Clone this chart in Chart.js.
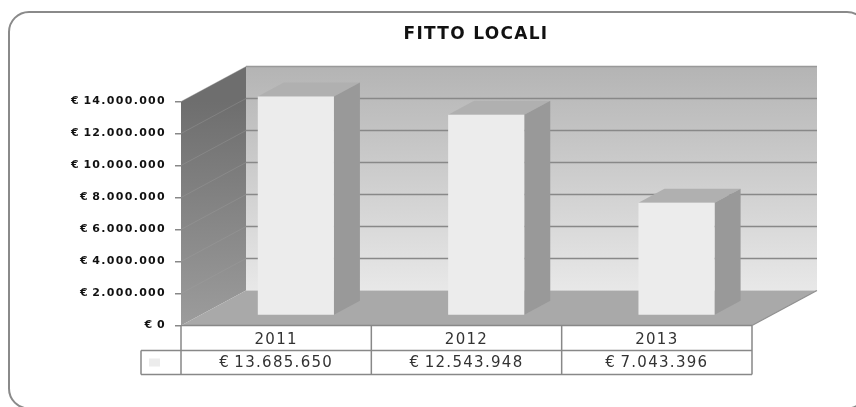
<!DOCTYPE html>
<html><head><meta charset="utf-8">
<style>html,body{margin:0;padding:0;background:#fff}canvas{display:block}</style>
<script src="https://cdn.jsdelivr.net/npm/chart.js@4"></script></head>
<body><canvas id="c" width="856" height="407"></canvas>
<script>
const titleText = "FITTO LOCALI";
const categories = ["2011", "2012", "2013"];
const values = [13685650, 12543948, 7043396];
const yTicksMax = 14000000;
const yTickStep = 2000000;

const WALL = {dx: 65, dy: -35};
const BAR = {dx: 19.7, dy: -10, sideX: 26, sideY: -14};
const LINE = "#888888";
const eur = v => "€\u2009" + String(v).replace(/\B(?=(\d{3})+$)/g, ".");

function poly(ctx, pts, fill) {
  ctx.beginPath();
  pts.forEach((p, i) => i ? ctx.lineTo(p[0], p[1]) : ctx.moveTo(p[0], p[1]));
  ctx.closePath();
  ctx.fillStyle = fill;
  ctx.fill();
}
const scene = {
  id: "scene",
  beforeDraw(chart) {
    const ctx = chart.ctx;
    const t = chart.titleBlock;
    t.left = 100; t.right = 852;
    ctx.fillStyle = "#fff";
    ctx.fillRect(0, 0, 856, 407);
    ctx.strokeStyle = "#8a8a8a";
    ctx.lineWidth = 2;
    ctx.beginPath();
    ctx.roundRect(9, 12, 858, 396.5, 20);
    ctx.stroke();
    ctx.letterSpacing = "1.3px";
  },
  beforeDatasetsDraw(chart) {
    const ctx = chart.ctx, {left: L, right: R} = chart.chartArea, y = chart.scales.y;
    const y0 = y.getPixelForValue(0), yT = y.getPixelForValue(yTicksMax);
    const {dx, dy} = WALL;
    ctx.save();
    let g = ctx.createLinearGradient(0, yT + dy, 0, y0 + dy);
    g.addColorStop(0, "#b4b4b4"); g.addColorStop(1, "#e8e8e8");
    poly(ctx, [[L + dx, yT + dy], [R + dx, yT + dy], [R + dx, y0 + dy], [L + dx, y0 + dy]], g);
    g = ctx.createLinearGradient(0, yT, 0, y0);
    g.addColorStop(0, "#6e6e6e"); g.addColorStop(1, "#9c9c9c");
    poly(ctx, [[L, y0], [L + dx, y0 + dy], [L + dx, yT + dy], [L, yT]], g);
    poly(ctx, [[L, y0], [L + dx, y0 + dy], [R + dx, y0 + dy], [R, y0]], "#a9a9a9");
    y.ticks.forEach(t => {
      const p = y.getPixelForValue(t.value);
      if (t.value > 0) {
        ctx.strokeStyle = "rgba(160,160,160,0.35)"; ctx.lineWidth = 1;
        ctx.beginPath(); ctx.moveTo(L, p); ctx.lineTo(L + dx, p + dy); ctx.stroke();
      }
      ctx.strokeStyle = t.value === yTicksMax ? "#999999" : LINE; ctx.lineWidth = 1.5;
      if (t.value > 0) { ctx.beginPath(); ctx.moveTo(L + dx, p + dy); ctx.lineTo(R + dx, p + dy); ctx.stroke(); }
    });
    ctx.strokeStyle = "#909090"; ctx.lineWidth = 1.2;
    ctx.beginPath();
    ctx.moveTo(R + dx, y0 + dy); ctx.lineTo(R, y0);
    ctx.stroke();
    ctx.restore();

    ctx.save();
    ctx.translate(BAR.dx, BAR.dy);
    chart.getDatasetMeta(0).data.forEach(b => {
      const l = b.x - b.width / 2, r = b.x + b.width / 2, sx = BAR.sideX, sy = BAR.sideY;
      poly(ctx, [[l, b.y], [l + sx, b.y + sy], [r + sx, b.y + sy], [r, b.y]], "#b0b0b0");
      poly(ctx, [[r, b.y], [r + sx, b.y + sy], [r + sx, b.base + sy], [r, b.base]], "#999999");
    });
    ctx.restore();
    ctx.save();
    ctx.translate(BAR.dx, BAR.dy);
  },
  afterDatasetsDraw(chart) {
    chart.ctx.restore();
  },
  afterDraw(chart) {
    const ctx = chart.ctx, {left: L, right: R} = chart.chartArea, x = chart.scales.x, y0 = chart.scales.y.getPixelForValue(0);
    const rowA = y0 + 25, rowB = y0 + 49, legL = L - 40;
    ctx.save();
    ctx.strokeStyle = LINE; ctx.lineWidth = 1.5;
    ctx.beginPath();
    ctx.moveTo(L, y0); ctx.lineTo(R, y0);
    ctx.moveTo(legL, rowA); ctx.lineTo(R, rowA);
    ctx.moveTo(legL, rowB); ctx.lineTo(R, rowB);
    ctx.moveTo(legL, rowA); ctx.lineTo(legL, rowB);
    const cw = (R - L) / categories.length;
    for (let i = 0; i <= categories.length; i++) {
      ctx.moveTo(L + i * cw, y0); ctx.lineTo(L + i * cw, rowB);
    }
    ctx.stroke();
    ctx.fillStyle = "#ececec";
    ctx.fillRect(legL + 8, rowA + 8, 11, 8);
    ctx.fillStyle = "#333";
    ctx.font = "15px 'DejaVu Sans'";
    ctx.letterSpacing = "1.3px";
    ctx.textAlign = "center"; ctx.textBaseline = "middle";
    values.forEach((v, i) => ctx.fillText(eur(v), x.getPixelForValue(i), rowA + 12.5));
    ctx.restore();
  }
};

new Chart(document.getElementById("c"), {
  type: "bar",
  data: {labels: categories, datasets: [{data: values, backgroundColor: "#ececec", borderWidth: 0,
    barPercentage: 0.4, categoryPercentage: 1}]},
  plugins: [scene],
  options: {
    responsive: false, animation: false,
    layout: {padding: {right: 104, left: 0, top: 0, bottom: 0}},
    plugins: {
      legend: {display: false}, tooltip: {enabled: false},
      title: {display: true, text: titleText, color: "#111",
        font: {family: "'DejaVu Sans'", size: 17, weight: "bold"},
        padding: {top: 24.8, bottom: 56.3}}
    },
    scales: {
      x: {
        grid: {display: false}, border: {display: false},
        ticks: {color: "#333", font: {family: "'DejaVu Sans'", size: 15}, padding: -2, maxRotation: 0},
        afterFit(s) { s.height = 81.5; }
      },
      y: {
        min: 0, max: yTicksMax,
        grid: {drawOnChartArea: false, color: LINE, tickLength: 6, lineWidth: 1.5},
        border: {display: false},
        ticks: {stepSize: yTickStep, padding: 9, color: "#111",
          font: {family: "'DejaVu Sans'", size: 11, weight: "bold"},
          callback: v => eur(v)},
        afterFit(s) { s.width = 181; }
      }
    }
  }
});
</script></body></html>
